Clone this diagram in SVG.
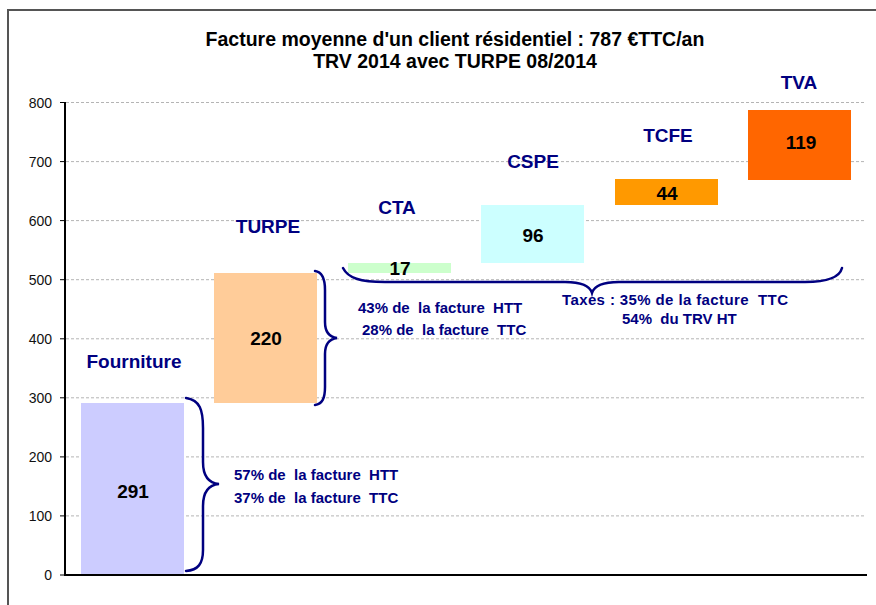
<svg xmlns="http://www.w3.org/2000/svg" width="876" height="605" viewBox="0 0 876 605">
  <style>
    .grid { stroke: #b4b4b4; stroke-width: 1; stroke-dasharray: 3 2; fill: none; }
    .axis { stroke: #000; stroke-width: 2; fill: none; }
    .tick { stroke: #000; stroke-width: 1; }
    .ylab { font-family: "Liberation Sans", Arial, sans-serif; font-size: 14px; fill: #111; text-anchor: end; }
    .title { font-family: "Liberation Sans", Arial, sans-serif; font-size: 19.5px; font-weight: bold; fill: #000; text-anchor: middle; }
    .cat { font-family: "Liberation Sans", Arial, sans-serif; font-size: 19px; font-weight: bold; fill: #000080; text-anchor: middle; }
    .val { font-family: "Liberation Sans", Arial, sans-serif; font-size: 19px; font-weight: bold; fill: #000; text-anchor: middle; }
    .note { font-family: "Liberation Sans", Arial, sans-serif; font-size: 15px; font-weight: bold; fill: #000080; white-space: pre; }
    .brace { stroke: #000080; stroke-width: 2.5; fill: none; stroke-linecap: round; }
  </style>

  <rect x="0" y="0" width="876" height="605" fill="#fff"/>
  <!-- chart frame -->
  <path d="M8 605 V10 H876" stroke="#555" stroke-width="2" fill="none"/>

  <!-- title -->
  <text class="title" x="455" y="46">Facture moyenne d'un client résidentiel : 787 €TTC/an</text>
  <text class="title" x="455" y="68">TRV 2014 avec TURPE 08/2014</text>

  <!-- gridlines -->
  <g id="gridlines">
    <line class="grid" x1="66" y1="515.9" x2="866" y2="515.9"/>
    <line class="grid" x1="66" y1="456.9" x2="866" y2="456.9"/>
    <line class="grid" x1="66" y1="397.8" x2="866" y2="397.8"/>
    <line class="grid" x1="66" y1="338.8" x2="866" y2="338.8"/>
    <line class="grid" x1="66" y1="279.7" x2="866" y2="279.7"/>
    <line class="grid" x1="66" y1="220.6" x2="866" y2="220.6"/>
    <line class="grid" x1="66" y1="161.6" x2="866" y2="161.6"/>
    <line class="grid" x1="66" y1="102.5" x2="866" y2="102.5"/>
  </g>

  <!-- bars -->
  <g id="fourniture">
    <rect x="81" y="403" width="103" height="172" fill="#ccccff"/>
    <text class="cat" x="134" y="368">Fourniture</text>
    <text class="val" x="133" y="498">291</text>
  </g>
  <g id="turpe">
    <rect x="214" y="273" width="103" height="130" fill="#ffcc99"/>
    <text class="cat" x="268" y="233">TURPE</text>
    <text class="val" x="266" y="345">220</text>
  </g>
  <g id="cta">
    <rect x="348" y="263" width="103" height="10" fill="#ccffcc"/>
    <text class="cat" x="397" y="214">CTA</text>
    <text class="val" x="400" y="275">17</text>
  </g>
  <g id="cspe">
    <rect x="481" y="205" width="103" height="58" fill="#ccffff"/>
    <text class="cat" x="533" y="168">CSPE</text>
    <text class="val" x="533" y="242">96</text>
  </g>
  <g id="tcfe">
    <rect x="615" y="179" width="103" height="26" fill="#ff9900"/>
    <text class="cat" x="668" y="142">TCFE</text>
    <text class="val" x="667" y="200">44</text>
  </g>
  <g id="tva">
    <rect x="748" y="110" width="103" height="70" fill="#ff6600"/>
    <text class="cat" x="799" y="89">TVA</text>
    <text class="val" x="801" y="149">119</text>
  </g>

  <!-- axes -->
  <g id="axes">
    <line class="axis" x1="65" y1="102" x2="65" y2="576"/>
    <line class="axis" x1="64" y1="575" x2="867" y2="575"/>
    <line class="tick" x1="60" y1="575" x2="65" y2="575"/>
    <line class="tick" x1="60" y1="515.9" x2="65" y2="515.9"/>
    <line class="tick" x1="60" y1="456.9" x2="65" y2="456.9"/>
    <line class="tick" x1="60" y1="397.8" x2="65" y2="397.8"/>
    <line class="tick" x1="60" y1="338.8" x2="65" y2="338.8"/>
    <line class="tick" x1="60" y1="279.7" x2="65" y2="279.7"/>
    <line class="tick" x1="60" y1="220.6" x2="65" y2="220.6"/>
    <line class="tick" x1="60" y1="161.6" x2="65" y2="161.6"/>
    <line class="tick" x1="60" y1="102.5" x2="65" y2="102.5"/>
    <text class="ylab" x="52" y="580">0</text>
    <text class="ylab" x="52" y="521">100</text>
    <text class="ylab" x="52" y="462">200</text>
    <text class="ylab" x="52" y="403">300</text>
    <text class="ylab" x="52" y="344">400</text>
    <text class="ylab" x="52" y="285">500</text>
    <text class="ylab" x="52" y="226">600</text>
    <text class="ylab" x="52" y="167">700</text>
    <text class="ylab" x="52" y="108">800</text>
  </g>

  <!-- braces -->
  <g id="connectors">
    <path class="brace" d="M186 398 C200 400 203 410 203 428 L203 462 C203 476 208 483 219 484 C208 485 203 492 203 506 L203 550 C203 564 198 570 186 571"/>
    <path class="brace" d="M315 271 C322 272 325 278 325 290 L325 322 C325 332 329 337 337 338 C329 339 325 344 325 354 L325 387 C325 399 322 404 315 405"/>
    <path class="brace" d="M343 268 C348 278 360 282 385 282 L565 282 C582 282 590 286 592 293 C594 286 602 282 619 282 L805 282 C830 282 840 276 842 268"/>
  </g>

  <!-- annotations -->
  <g id="notes">
    <text class="note" x="234" y="480">57% de  la facture  HTT</text>
    <text class="note" x="234" y="503">37% de  la facture  TTC</text>
    <text class="note" x="358" y="313">43% de  la facture  HTT</text>
    <text class="note" x="362" y="335">28% de  la facture  TTC</text>
    <text class="note" x="562" y="305" textLength="226" lengthAdjust="spacing">Taxes : 35% de la facture  TTC</text>
    <text class="note" x="622" y="324">54%  du TRV HT</text>
  </g>
</svg>
